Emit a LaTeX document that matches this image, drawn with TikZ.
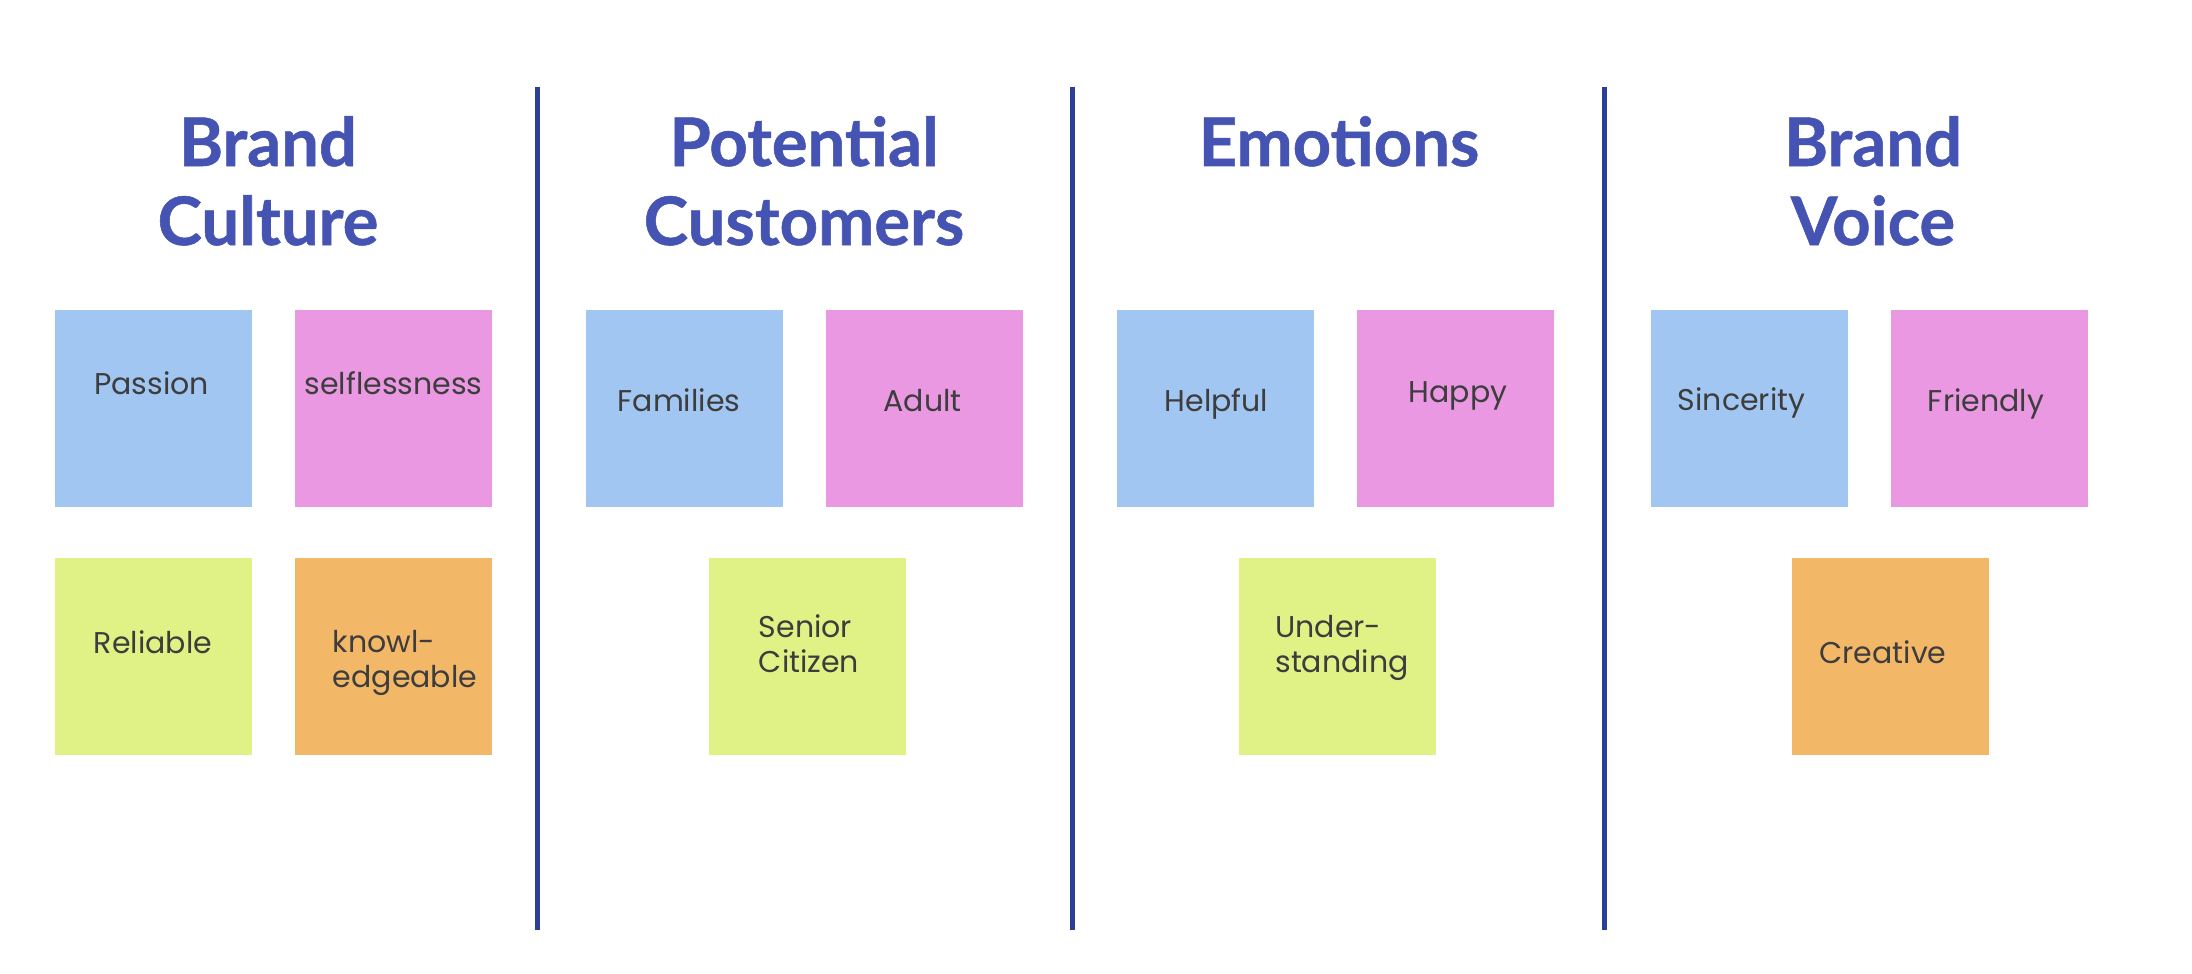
\documentclass[tikz,border=0pt]{standalone}
\usepackage{fontspec}
\newfontfamily\notefont{Poppins}
\newfontfamily\headfont{Lato}[BoldFeatures={FakeBold=0.8}]
\usetikzlibrary{calc}
\definecolor{cnavy}{HTML}{2C3E95}
\definecolor{chead}{HTML}{4553B3}
\definecolor{cblue}{HTML}{A2C6F2}
\definecolor{cpink}{HTML}{EA98E2}
\definecolor{clime}{HTML}{E0F285}
\definecolor{corange}{HTML}{F2B868}
\definecolor{ctext}{HTML}{3D3D3D}
\tikzset{
  every picture/.style={x=0.5pt, y=-0.5pt},
  sticky/.style={fill=#1, minimum size=98.5pt, inner sep=0pt},
  stickytext/.style={font=\notefont\fontsize{15}{17.5}\selectfont, text=ctext, align=left, anchor=base, inner sep=0pt},
  heading/.style={font=\headfont\bfseries\fontsize{33.5}{39.5}\selectfont, text=chead, align=center, anchor=base, inner sep=0pt},
  divider/.style={draw=cnavy, line width=2.5pt},
}
% name, cx, cy, colour, dx, dy (last baseline), text
\newcommand{\postit}[7]{\node[sticky=#4] (#1) at (#2,#3) {};
  \node[stickytext] (#1t) at ($(#1.center)+(#5,#6)$) {#7};}

\begin{document}
\begin{tikzpicture}
  \fill[white] (0,0) rectangle (2192,974);
  \useasboundingbox (0,0) rectangle (2192,974);
  % dividers
  \foreach \x [count=\i] in {537,1072,1604}{
    \coordinate (d\i t) at (\x,87);
    \coordinate (d\i b) at (\x,930);
    \draw[divider] (d\i t) -- (d\i b);
  }
  % brand culture
  \node[heading] (hCulture) at (268,245) {Brand\\Culture};
  \postit{passion}{153}{408.5}{cblue}{-1.5}{-14.5}{Passion}
  \postit{selfless}{393.5}{408.5}{cpink}{0}{-14.5}{selflessness}
  \postit{reliable}{153}{656.5}{clime}{0}{-3}{Reliable}
  \postit{knowl}{393.5}{656.5}{corange}{11.5}{31}{knowl-\\edgeable}
  % potential customers
  \node[heading] (hCustomers) at (804,245) {Potential\\Customers};
  \postit{families}{684.5}{408.5}{cblue}{-5.5}{2.5}{Families}
  \postit{adult}{924.5}{408.5}{cpink}{-2}{2.5}{Adult}
  \postit{senior}{807.5}{656.5}{clime}{1.5}{15.5}{Senior\\Citizen}
  % emotions
  \node[heading] (hEmotions) at (1339,166) {Emotions};
  \postit{helpful}{1215.5}{408.5}{cblue}{1}{2.5}{Helpful}
  \postit{happy}{1455.5}{408.5}{cpink}{2.5}{-6.5}{Happy}
  \postit{under}{1337}{656.5}{clime}{5}{15.5}{Under-\\standing}
  % brand voice
  \node[heading] (hVoice) at (1873,245) {Brand\\Voice};
  \postit{sincerity}{1749.5}{408.5}{cblue}{-8}{1.5}{Sincerity}
  \postit{friendly}{1989.5}{408.5}{cpink}{-3.5}{2.5}{Friendly}
  \postit{creative}{1890.5}{656.5}{corange}{-7.5}{6.5}{Creative}
\end{tikzpicture}
\end{document}
